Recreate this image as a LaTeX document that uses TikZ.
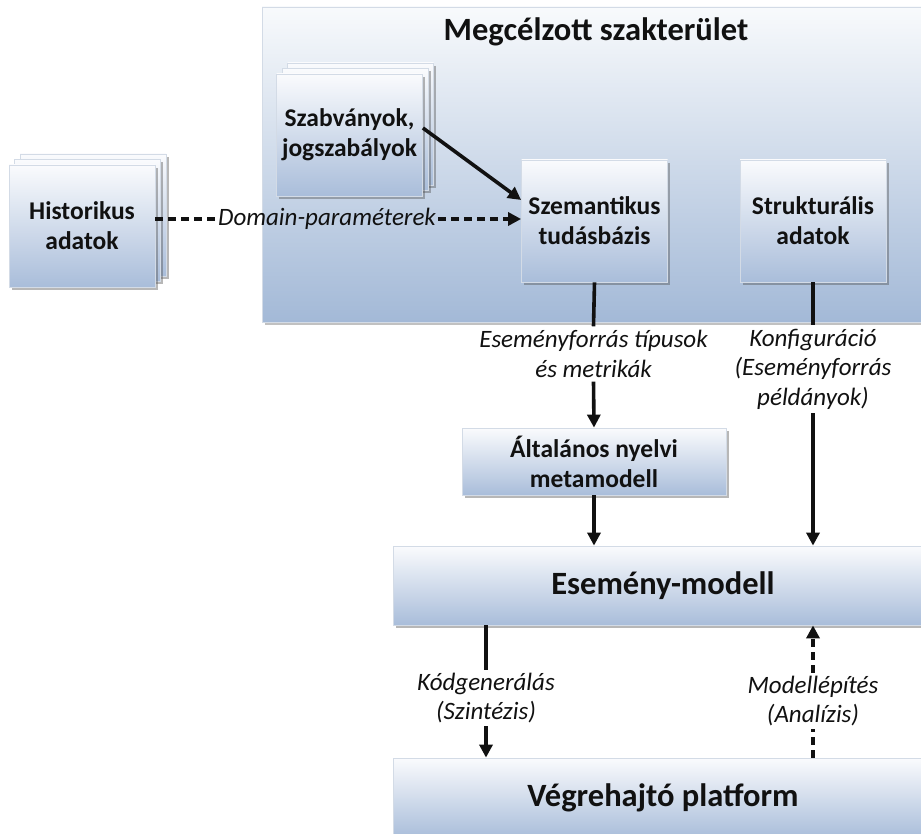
\documentclass[tikz,border=0pt]{standalone}
\usepackage{fontspec}
\setmainfont{Carlito}
\usetikzlibrary{arrows.meta,shadows,calc}

\definecolor{boxtop}{HTML}{FAFBFD}
\definecolor{boxbot}{HTML}{A9BDDA}
\definecolor{paneltop}{HTML}{F8FAFC}
\definecolor{panelbot}{HTML}{A3B9D7}
\definecolor{boxline}{HTML}{D3DBE6}
\definecolor{ink}{HTML}{111111}

\tikzset{
  shade box/.style={draw=boxline, line width=0.8pt, top color=boxtop, bottom color=boxbot,
    align=center, inner sep=0pt, text=ink,
    drop shadow={shadow xshift=2.5pt, shadow yshift=-3pt, opacity=0.4, fill=black!70}},
  card/.style={shade box, minimum width=146pt, minimum height=122pt,
    font=\fontsize{25.5}{30}\selectfont\bfseries},
  layer/.style={card},
  wide/.style={shade box, minimum width=540pt, minimum height=80pt,
    font=\fontsize{32.5}{38}\selectfont\bfseries},
  panel/.style={draw=boxline, line width=0.8pt, top color=paneltop, bottom color=panelbot,
    minimum width=668pt, minimum height=315pt, inner sep=0pt,
    drop shadow={shadow xshift=2.5pt, shadow yshift=-3pt, opacity=0.35, fill=black!70}},
  flowlabel/.style={font=\fontsize{25}{29.5}\selectfont\itshape, align=center, text=ink,
    inner xsep=2pt, inner ysep=4pt},
  tip/.style={-{Triangle[length=13pt,width=13pt]}},
  link/.style={line width=3.6pt, draw=ink},
  arrowlink/.style={link, tip},
  dashlink/.style={link, dash pattern=on 8pt off 5pt},
}

\begin{document}
\begin{tikzpicture}[x=1pt,y=-1pt]
\useasboundingbox (0,0) rectangle (921,834);
\clip (0,0) rectangle (921,834);

% target domain panel
\node[panel] (dom) at (596,164.5) {};
\node[font=\fontsize{32.5}{38}\selectfont\bfseries, text=ink] (title) at (596,32) {Megcélzott szakterület};

% historical data (stacked sheets)
\node[layer] (hist3) at (93,215) {};
\node[layer] (hist2) at (87.5,220.5) {};
\node[card] (hist) at (82,226) {Historikus\\adatok};

% standards (stacked sheets)
\node[layer] (szab3) at (360.5,124) {};
\node[layer] (szab2) at (355,129.5) {};
\node[card] (szab) at (349.5,135) {Szabványok,\\jogszabályok};

% knowledge base and structural data
\node[card] (szem) at (594.5,221) {Szemantikus\\tudásbázis};
\node[card] (strukt) at (813,221) {Strukturális\\adatok};

% metamodel and the two wide layers
\node[shade box, minimum width=264pt, minimum height=67pt,
      font=\fontsize{25.5}{30}\selectfont\bfseries] (alt) at (594,461.5) {Általános nyelvi\\metamodell};
\node[wide, minimum height=79pt] (esem) at (663,585.5) {Esemény-modell};
\node[wide] (veg) at (663,798) {Végrehajtó platform};

% connector labels
\node[flowlabel] (dlab) at (327,219) {Domain-paraméterek};
\node[flowlabel] (tlab) at (593.5,354) {Eseményforrás típusok\\és metrikák};
\node[flowlabel] (klab) at (813,369) {Konfiguráció\\(Eseményforrás\\példányok)};
\node[flowlabel, inner ysep=3pt] (kod) at (486,698) {Kódgenerálás\\(Szintézis)};
\node[flowlabel, inner ysep=3pt] (mod) at (813,701) {Modellépítés\\(Analízis)};

% connectors
\draw[dashlink] (hist.east |- dlab.west) -- (dlab.west);
\draw[dashlink, tip] (dlab.east) -- (szem.west |- dlab.east);
\draw[arrowlink] ([yshift=7pt]szab.east) -- ([yshift=21pt]szem.west);

\draw[link] (szem.south) -- (tlab.north);
\draw[arrowlink] (tlab.south) -- (alt.north);
\draw[arrowlink] (alt.south) -- (alt.south |- esem.north);

\draw[link] (strukt.south) -- (klab.north);
\draw[arrowlink] (klab.south) -- (klab.south |- esem.north);

\draw[link] (esem.south -| kod.north) -- (kod.north);
\draw[arrowlink] (kod.south) -- (kod.south |- veg.north);

\draw[dashlink] (veg.north -| mod.south) -- (mod.south);
\draw[dashlink, tip] (mod.north) -- (esem.south -| mod.north);
\end{tikzpicture}
\end{document}
